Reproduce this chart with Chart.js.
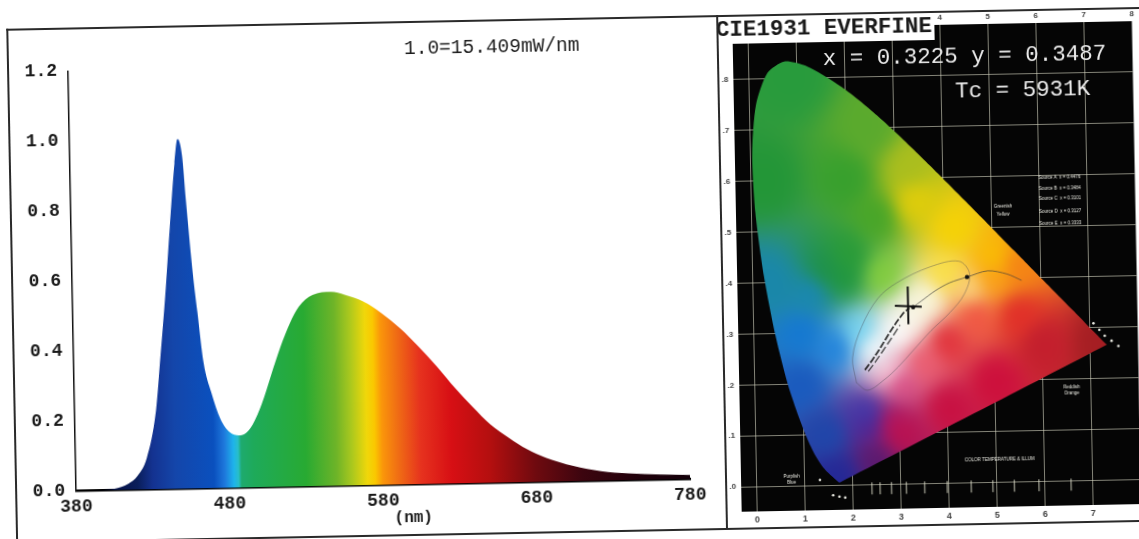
<!DOCTYPE html>
<html>
<head>
<meta charset="utf-8">
<script src="https://cdn.jsdelivr.net/npm/chart.js@4"></script>
<style>
html,body{margin:0;padding:0;background:#fff;width:1139px;height:539px;overflow:hidden}
#sheet{position:absolute;left:0;top:0;width:1139px;height:539px;transform:rotate(-1.1deg);transform-origin:569.5px 269.5px}
canvas{position:absolute;top:0}
#left{left:0}
#right{left:722px}
.rule{position:absolute;background:#2a2a2a}
</style>
</head>
<body>
<div id="sheet">
<canvas id="left" width="722" height="539" style="width:722px;height:539px"></canvas>
<canvas id="right" width="438" height="539" style="width:438px;height:539px"></canvas>
<div class="rule" style="left:11px;top:18px;width:1160px;height:1.5px"></div>
<div class="rule" style="left:11px;top:18px;width:1.5px;height:525px"></div>
<div class="rule" style="left:721px;top:18px;width:1.5px;height:514px"></div>
<div class="rule" style="left:11px;top:531px;width:1160px;height:1.5px"></div>
</div>
<script>
// ---------- Spectrum ----------
const wavelengths = [380,395,405,414.1,420.2,426.4,433,436.7,440.4,444.3,448.1,450.4,453.2,455.1,458.7,461.2,464.6,469.2,474.9,480.7,486.7,490.7,495.8,502.1,508.4,514.8,521.1,527.3,536.4,548.4,557.4,569.3,581.2,593,604.7,616.5,628.2,639,650.7,662.6,674.4,686.3,704.2,722.1,740.1,761.1,780];
const relativePower = [0,0.001,0.004,0.018,0.04,0.09,0.225,0.385,0.55,0.75,0.93,1.0,0.95,0.825,0.615,0.505,0.36,0.275,0.198,0.16,0.15,0.154,0.18,0.24,0.32,0.40,0.466,0.514,0.547,0.555,0.546,0.526,0.491,0.447,0.394,0.336,0.273,0.22,0.167,0.128,0.094,0.069,0.044,0.028,0.02,0.015,0.012];
const spectrumXTicks = [380,480,580,680,780];
const spectrumYTicks = [0,0.2,0.4,0.6,0.8,1.0,1.2];
const scaleNote = "1.0=15.409mW/nm";
const spectrumAxisTitle = "(nm)";
const gradientNm = [380,420,430,445,470,477,483,486,488,496,530,550,560,570,575,580,590,605,625,650,680,710,750,780];
const gradientColours = ["#000030","#0a1e5a","#143290","#1446aa","#0a50be","#1e78dc","#1eb4eb","#28bec8","#1eaa6e","#1eaa5a","#28aa32","#6eb428","#aac81e","#f0d70a","#fac800","#fa960a","#f06e14","#e6321e","#d70f14","#b40f0f","#6e0a0f","#3c050f","#1e000a","#14000a"];

// ---------- CIE diagram ----------
const locusX = [0.1741,0.1733,0.1714,0.1689,0.1644,0.1566,0.1440,0.1355,0.1241,0.1096,0.0913,0.0687,0.0454,0.0235,0.0082,0.0039,0.0139,0.0389,0.0743,0.1142,0.1547,0.1929,0.2296,0.2658,0.3016,0.3373,0.3731,0.4087,0.4441,0.4788,0.5125,0.5448,0.5752,0.6029,0.6270,0.6658,0.6915,0.7079,0.7190,0.7260,0.7320,0.7347,0.1741];
const locusY = [0.0050,0.0048,0.0051,0.0069,0.0109,0.0177,0.0297,0.0399,0.0578,0.0868,0.1327,0.2007,0.2950,0.4127,0.5384,0.6548,0.7502,0.8120,0.8338,0.8262,0.8059,0.7816,0.7543,0.7243,0.6923,0.6589,0.6245,0.5896,0.5547,0.5202,0.4866,0.4544,0.4242,0.3965,0.3725,0.3340,0.3083,0.2920,0.2809,0.2740,0.2680,0.2653,0.0050];
const planckHeavyX = [0.230,0.245,0.262,0.280,0.298,0.312,0.325];
const planckHeavyY = [0.225,0.243,0.266,0.293,0.318,0.335,0.345];
const streakX = [0.237,0.252,0.270,0.288,0.305];
const streakY = [0.222,0.240,0.264,0.288,0.312];
const planckX = [0.333,0.350,0.380,0.410,0.4466,0.490,0.530,0.560];
const planckY = [0.3466,0.358,0.378,0.393,0.4036,0.415,0.408,0.395];
const markerX = [0.333,0.4466];
const markerY = [0.3466,0.4036];
const outlineX = [0.212,0.205,0.225,0.26,0.30,0.37,0.43,0.452,0.44,0.41,0.37,0.33,0.30,0.27,0.235,0.212];
const outlineY = [0.20,0.25,0.31,0.365,0.395,0.425,0.435,0.41,0.37,0.335,0.30,0.26,0.23,0.205,0.185,0.20];
const crossHX = [0.295,0.351];
const crossHY = [0.3500,0.3470];
const crossVX = [0.3225,0.3225];
const crossVY = [0.3130,0.3870];
const whiteDotX = [0.708,0.72,0.731,0.745,0.759,0.132,0.159,0.172,0.184];
const whiteDotY = [0.308,0.295,0.283,0.273,0.2625,0.0104,-0.02,-0.023,-0.025];
const ctMarkX = [0.24,0.257,0.281,0.312,0.35,0.397,0.447,0.492,0.537,0.588,0.655];
const ctMarkY = [-0.008,-0.008,-0.008,-0.008,-0.008,-0.008,-0.008,-0.008,-0.008,-0.008,-0.008];
const cieXTicks = [0,0.1,0.2,0.3,0.4,0.5,0.6,0.7];
const cieTopTicks = [0.4,0.5,0.6,0.7,0.8];
const cieYTicks = [0,0.1,0.2,0.3,0.4,0.5,0.6,0.7,0.8];
const cieTitle = "CIE1931 EVERFINE";
const cieCoords = "x = 0.3225 y = 0.3487";
const cieTc = "Tc = 5931K";
const tinyLabels = ["COLOR TEMPERATURE & ILLUM","Greenish","Yellow","Reddish","Orange","Purplish","Blue","Source A  x = 0.4476","Source B  x = 0.3484","Source C  x = 0.3101","Source D  x = 0.3127","Source E  x = 0.3333"];
const tinyLabelX = [0.507,0.524,0.524,0.66,0.66,0.073,0.073,0.643,0.643,0.643,0.643,0.643];
const tinyLabelY = [0.0438,0.540,0.526,0.184,0.172,0.018,0.006,0.595,0.575,0.555,0.530,0.505];
// Colour field: anchor x, anchor y, colour
const fieldX = [0.09,0.03,0.2,0.26,0.25,0.33,0.34,0.42,0.5,0.55,0.2,0.15,0.04,0.12,0.19,0.27,0.4,0.33,0.25,0.22,0.17,0.1,0.1,0.15,0.17,0.24,0.234,0.28,0.3,0.25,0.4,0.5,0.6,0.72,0.55,0.46,0.4,0.35,0.3,0.28,0.5,0.45,0.30,0.36];
const fieldY = [0.8,0.6,0.6,0.525,0.7,0.62,0.555,0.5,0.44,0.42,0.45,0.42,0.4,0.38,0.41,0.41,0.41,0.33,0.27,0.3,0.27,0.3,0.2,0.1,0.02,0.12,0.14,0.12,0.1,0.05,0.15,0.2,0.27,0.27,0.33,0.33,0.28,0.24,0.2,0.22,0.4,0.38,0.30,0.36];
const fieldC = [[40,155,60],[35,150,55],[55,160,45],[70,165,40],[90,170,45],[170,190,30],[225,205,10],[245,210,5],[250,190,0],[245,130,20],[40,155,55],[30,145,70],[25,135,170],[25,135,180],[30,150,60],[130,205,60],[250,225,70],[250,250,235],[250,255,255],[110,210,240],[30,130,220],[20,120,210],[25,90,190],[30,70,170],[35,40,150],[70,35,150],[60,60,175],[190,15,85],[190,15,75],[90,25,110],[200,15,65],[205,15,60],[195,30,45],[165,30,35],[225,45,40],[240,80,65],[225,45,55],[235,90,110],[215,60,120],[250,220,230],[250,160,20],[250,215,130],[255,255,255],[250,250,225]];

const zip = (xs, ys) => xs.map((x, i) => ({x, y: ys[i]}));
const MONO = '"Liberation Mono", monospace';

function spectrumFill(ctx) {
  const c = ctx.chart, a = c.chartArea;
  if (!a) return 'transparent';
  const sx = c.scales.x;
  const g = c.ctx.createLinearGradient(sx.left, 0, sx.right, 0);
  gradientNm.forEach((nm, i) => g.addColorStop((nm - sx.min) / (sx.max - sx.min), gradientColours[i]));
  return g;
}

new Chart(document.getElementById('left'), {
  type: 'line',
  data: {
    labels: wavelengths,
    datasets: [{
      data: zip(wavelengths, relativePower),
      borderWidth: 0, pointRadius: 0, fill: 'origin',
      backgroundColor: spectrumFill,
      cubicInterpolationMode: 'monotone'
    }]
  },
  options: {
    responsive: false, animation: false, devicePixelRatio: 1,
    layout: {padding: {left: 0, right: 36, top: 61.5, bottom: 0}},
    plugins: {legend: {display: false}, tooltip: {enabled: false}},
    scales: {
      x: {
        type: 'linear', min: 380, max: 780,
        afterBuildTicks: s => { s.ticks = spectrumXTicks.map(value => ({value})); },
        afterFit: s => { s.height = 57.5; },
        grid: {display: false, drawTicks: true, tickLength: 3, tickColor: '#111'},
        border: {display: true, color: '#000', width: 2.5},
        ticks: {color: '#1a1a1a', font: {family: MONO, size: 18, weight: 'bold'}, maxRotation: 0, padding: 2, autoSkip: false}
      },
      y: {
        min: 0, max: 1.2,
        afterBuildTicks: s => { s.ticks = spectrumYTicks.map(value => ({value})); },
        afterFit: s => { s.width = 72; },
        grid: {display: false, drawTicks: true, tickLength: 4, tickColor: '#111'},
        border: {display: true, color: '#111', width: 1.5},
        ticks: {color: '#1a1a1a', font: {family: MONO, size: 18, weight: 'bold'}, padding: 7, autoSkip: false, callback: v => v.toFixed(1)}
      }
    }
  },
  plugins: [{
    id: 'note',
    afterDraw(c) {
      const g = c.ctx;
      g.save();
      g.fillStyle = '#1a1a1a';
      g.font = '19.5px ' + MONO;
      g.textAlign = 'center'; g.textBaseline = 'middle';
      g.fillText(scaleNote, 496, 45.5);
      g.font = 'bold 16px ' + MONO;
      g.fillText(spectrumAxisTitle, 409, 515);
      g.restore();
    }
  }]
});

let fieldPattern = null;
function fieldFill(ctx) {
  const c = ctx.chart;
  if (!c.chartArea) return 'transparent';
  if (fieldPattern) return fieldPattern;
  const w = c.width, h = c.height;
  const raw = document.createElement('canvas');
  raw.width = w; raw.height = h;
  const rctx = raw.getContext('2d');
  const img = rctx.createImageData(w, h);
  const sx = c.scales.x, sy = c.scales.y;
  for (let py = 0; py < h; py++) {
    const vy = sy.getValueForPixel(py);
    for (let px = 0; px < w; px++) {
      const vx = sx.getValueForPixel(px);
      let r = 0, gr = 0, b = 0, t = 0;
      for (let i = 0; i < fieldX.length; i++) {
        const dx = vx - fieldX[i], dy = vy - fieldY[i];
        const d2 = dx * dx + dy * dy + 0.001;
        const wgt = 1 / (d2 * d2);
        r += wgt * fieldC[i][0]; gr += wgt * fieldC[i][1]; b += wgt * fieldC[i][2]; t += wgt;
      }
      const k = (py * w + px) * 4;
      img.data[k] = r / t; img.data[k + 1] = gr / t; img.data[k + 2] = b / t; img.data[k + 3] = 255;
    }
  }
  rctx.putImageData(img, 0, 0);
  const off = document.createElement('canvas');
  off.width = w; off.height = h;
  const octx = off.getContext('2d');
  octx.drawImage(raw, 0, 0);
  octx.filter = 'blur(5px)';
  octx.drawImage(raw, 0, 0);
  fieldPattern = c.ctx.createPattern(off, 'no-repeat');
  return fieldPattern;
}

new Chart(document.getElementById('right'), {
  type: 'scatter',
  data: {
    datasets: [
      {data: zip(crossHX, crossHY), showLine: true, borderColor: '#111', borderWidth: 2, pointRadius: 0, order: 1},
      {data: zip(crossVX, crossVY), showLine: true, borderColor: '#111', borderWidth: 2, pointRadius: 0, order: 1},
      {data: zip(planckHeavyX, planckHeavyY), showLine: true, borderColor: 'rgba(20,20,20,0.85)', borderWidth: 1.8, borderDash: [7, 2], pointRadius: 0, order: 2},
      {data: zip(streakX, streakY), showLine: true, borderColor: 'rgba(20,20,20,0.7)', borderWidth: 1.4, borderDash: [8, 3], pointRadius: 0, order: 2},
      {data: zip(planckX, planckY), showLine: true, tension: 0.3, borderColor: 'rgba(60,60,60,0.65)', borderWidth: 1, pointRadius: 0, order: 2},
      {data: zip(markerX, markerY), showLine: false, pointRadius: 2.2, pointBackgroundColor: '#111', pointBorderWidth: 0, order: 1},
      {data: zip(outlineX, outlineY), showLine: true, tension: 0.35, borderColor: 'rgba(70,70,80,0.5)', borderWidth: 0.8, pointRadius: 0, order: 3},
      {data: zip(whiteDotX, whiteDotY), showLine: false, pointRadius: 1.3, pointBackgroundColor: '#e8e8e0', pointBorderWidth: 0, order: 4},
      {data: zip(ctMarkX, ctMarkY), showLine: false, pointStyle: 'line', rotation: 90, pointRadius: 6, pointBorderColor: 'rgba(225,225,205,0.6)', pointBorderWidth: 1.5, order: 4},
      {data: zip(locusX, locusY), showLine: true, fill: 'shape', backgroundColor: fieldFill, borderWidth: 0, pointRadius: 0, tension: 0.25, order: 10}
    ]
  },
  options: {
    responsive: false, animation: false, devicePixelRatio: 1,
    layout: {padding: {left: 0, right: 23.5, top: 18, bottom: 0}},
    plugins: {legend: {display: false}, tooltip: {enabled: false}},
    scales: {
      x: {
        type: 'linear', min: -0.0323, max: 0.8,
        afterBuildTicks: s => { s.ticks = cieXTicks.map(value => ({value})); },
        afterFit: s => { s.height = 24; },
        grid: {color: 'rgba(215,215,195,0.6)', lineWidth: 1, drawTicks: false},
        border: {display: false},
        ticks: {color: '#444', font: {family: '"Liberation Sans", sans-serif', size: 9, weight: 'bold'}, padding: 3, maxRotation: 0, autoSkip: false, callback: v => String(Math.round(v * 10))}
      },
      xTop: {
        type: 'linear', position: 'top', min: -0.0323, max: 0.8,
        afterBuildTicks: s => { s.ticks = cieTopTicks.map(value => ({value})); },
        afterFit: s => { s.height = 14; },
        grid: {display: false, drawTicks: false},
        border: {display: false},
        ticks: {color: '#444', font: {family: '"Liberation Sans", sans-serif', size: 8, weight: 'bold'}, padding: 2, maxRotation: 0, autoSkip: false, callback: v => String(Math.round(v * 10))}
      },
      y: {
        min: -0.0489, max: 0.9,
        afterBuildTicks: s => { s.ticks = cieYTicks.map(value => ({value})); },
        afterFit: s => { s.width = 15; },
        grid: {color: 'rgba(215,215,195,0.6)', lineWidth: 1, drawTicks: false},
        border: {display: false},
        ticks: {color: '#444', font: {family: '"Liberation Sans", sans-serif', size: 8, weight: 'bold'}, padding: 5, autoSkip: false, callback: v => '.' + Math.round(v * 10)}
      }
    }
  },
  plugins: [{
    id: 'panel',
    beforeDraw(c) {
      const a = c.chartArea, g = c.ctx;
      g.save();
      g.fillStyle = '#050505';
      g.fillRect(a.left, a.top, a.right - a.left, a.bottom - a.top);
      g.restore();
    },
    afterDraw(c) {
      const g = c.ctx, a = c.chartArea, sx = c.scales.x, sy = c.scales.y;
      g.save();
      // title plate
      g.fillStyle = '#fff';
      g.fillRect(1, a.top - 14, 216, 29);
      g.fillStyle = '#1a1a1a';
      g.font = 'bold 22.5px ' + MONO;
      g.textAlign = 'center'; g.textBaseline = 'middle';
      g.fillText(cieTitle, 106.6, 33);
      // readout
      g.fillStyle = '#ececec';
      g.font = '22.5px ' + MONO;
      g.fillText(cieCoords, 246.6, 64.5);
      g.fillText(cieTc, 304, 99.4);
      // tiny annotations
      g.font = '4.5px "Liberation Sans", sans-serif';
      g.fillStyle = '#e8e8e0';
      tinyLabels.forEach((t, i) => g.fillText(t, sx.getPixelForValue(tinyLabelX[i]), sy.getPixelForValue(tinyLabelY[i])));
      g.restore();
    }
  }]
});
</script>
</body>
</html>
